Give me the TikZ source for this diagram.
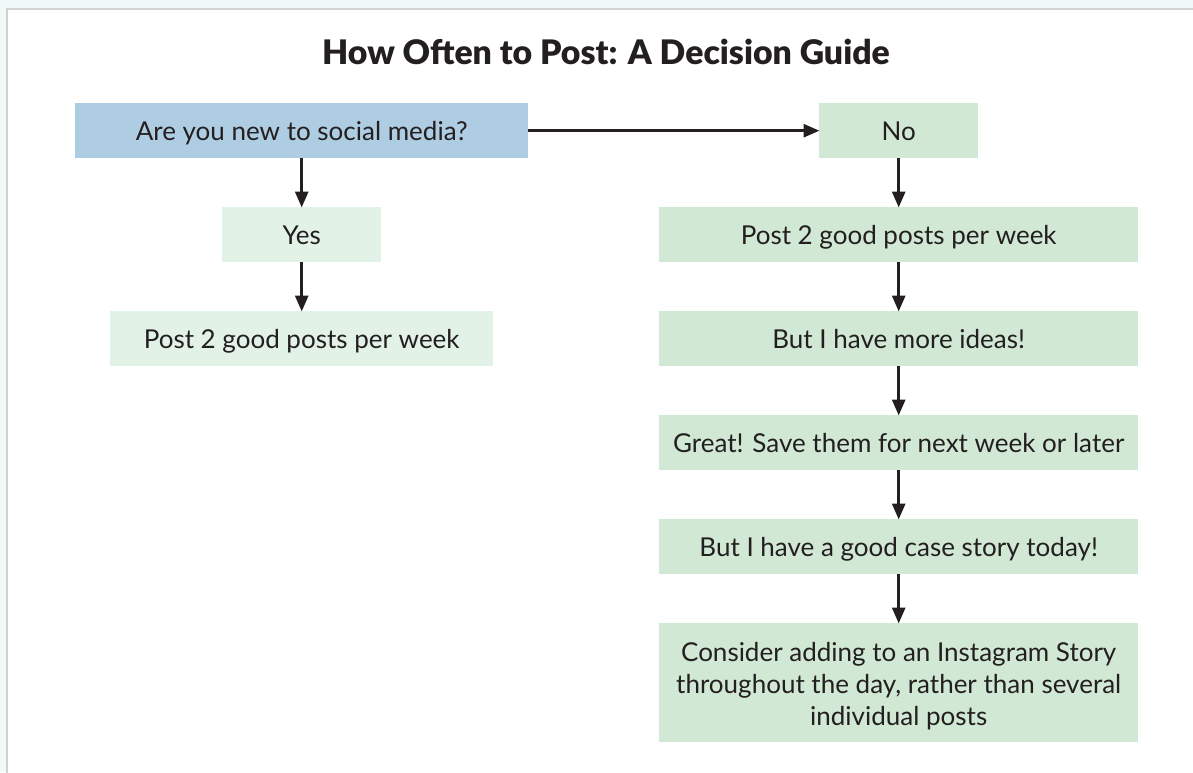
\documentclass[tikz,border=0pt]{standalone}
\usepackage{fontspec}
\setmainfont{Lato}
\newfontfamily\titlefont{Lato Black}
\usetikzlibrary{arrows.meta}
\definecolor{outerbg}{HTML}{F0F9F8}
\definecolor{framegray}{HTML}{D2D2D2}
\definecolor{qblue}{HTML}{AFCDE2}
\definecolor{gmid}{HTML}{D1E8D4}
\definecolor{glight}{HTML}{E3F2E6}
\definecolor{ink}{HTML}{231F20}
\tikzset{
  box/.style={draw=none, inner sep=0pt, text=ink, font=\fontsize{26}{32}\selectfont, anchor=north west},
  oneline/.style={box, text height=26pt, text depth=6pt},
  arr/.style={draw=ink, line width=2.8pt, -{Triangle[length=16pt,width=13pt]}, shorten >=-0.5pt},
}
\begin{document}
\begin{tikzpicture}[x=1pt,y=-1pt]
\useasboundingbox (0,0) rectangle (1193,772);
\fill[outerbg] (0,0) rectangle (1193,772);
\fill[white] (7,9) rectangle (1193,772);
\draw[framegray, line width=2pt] (7,780) -- (7,9) -- (1200,9);
\node[font=\titlefont\fontsize{33.8}{40}\selectfont, text=ink] (title) at (606,52) {How Often to Post: A Decision Guide};
\node[oneline, fill=qblue, minimum width=453pt, minimum height=55pt] (q) at (75,103) {Are you new to social media?};
\node[oneline, fill=gmid, minimum width=159pt, minimum height=55pt] (no) at (819,103) {No};
\node[oneline, fill=glight, minimum width=159pt, minimum height=55pt] (yes) at (222,207) {Yes};
\node[oneline, fill=glight, minimum width=383pt, minimum height=55pt] (lpost) at (110,311) {Post 2 good posts per week};
\node[oneline, fill=gmid, minimum width=479pt, minimum height=55pt] (rpost) at (659,207) {Post 2 good posts per week};
\node[oneline, fill=gmid, minimum width=479pt, minimum height=55pt] (ideas) at (659,311) {But I have more ideas!};
\node[oneline, fill=gmid, minimum width=479pt, minimum height=55pt] (great) at (659,415) {Great! Save them for next week or later};
\node[oneline, fill=gmid, minimum width=479pt, minimum height=55pt] (case) at (659,519) {But I have a good case story today!};
\node[box, fill=gmid, minimum width=479pt, minimum height=119pt, text height=58pt, text depth=36pt] (cons) at (659,623) {\begin{tabular}{@{}c@{}}Consider adding to an Instagram Story\\throughout the day, rather than several\\individual posts\end{tabular}};
\draw[arr] (q.east) -- (no.west);
\draw[arr] (q.south -| yes.north) -- (yes.north);
\draw[arr] (yes.south) -- (yes.south |- lpost.north);
\draw[arr] (no.south) -- (rpost.north);
\draw[arr] (rpost.south) -- (ideas.north);
\draw[arr] (ideas.south) -- (great.north);
\draw[arr] (great.south) -- (case.north);
\draw[arr] (case.south) -- (cons.north);
\end{tikzpicture}
\end{document}
